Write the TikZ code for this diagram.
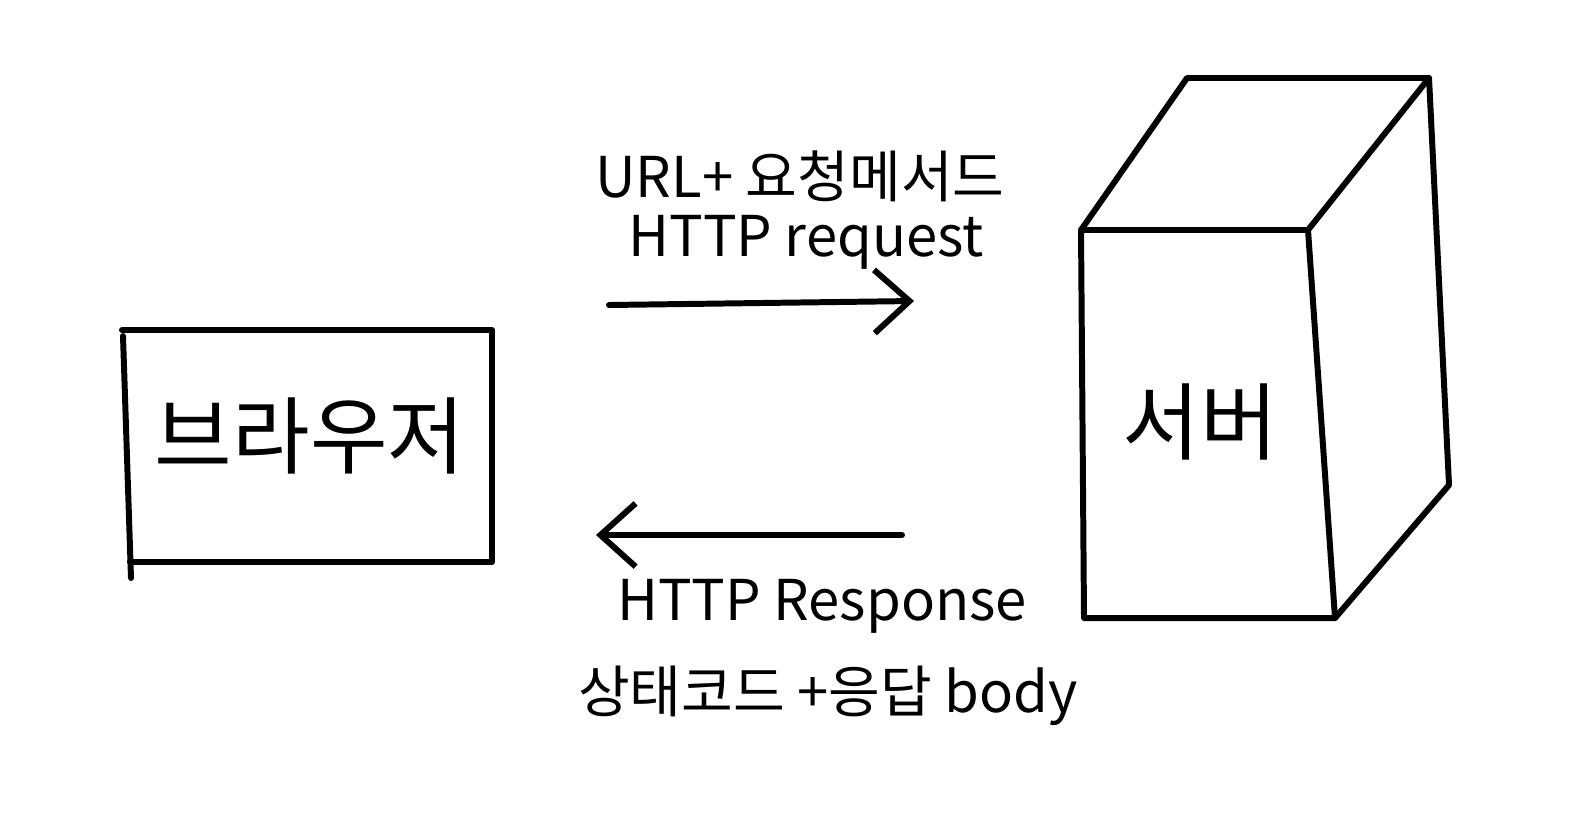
\documentclass[tikz,border=0pt]{standalone}
\usepackage{fontspec}
\setmainfont{Noto Sans CJK KR}
\usetikzlibrary{arrows.meta}

\begin{document}
\begin{tikzpicture}[x=0.02cm, y=-0.02cm,
  pen/.style={line width=3.4pt, line cap=round, line join=round},
  caption/.style={font=\fontsize{32}{38}\selectfont, inner sep=0pt},
  bigtext/.style={font=\fontsize{48}{54}\selectfont, inner sep=0pt},
  flow/.style={pen, -{Straight Barb[length=20pt, width=36pt]}}]

  \useasboundingbox (0,0) rectangle (1584,839);

  % Browser box
  \draw[pen] (122,330) -- (492,330) -- (492,562) -- (130,562);
  \draw[pen] (123,336) -- (131,578);
  \node[bigtext] (browser) at (310,436) {브라우저};

  % Server box corners
  \coordinate (FTL) at (1081,230);
  \coordinate (FTR) at (1308,230);
  \coordinate (FBR) at (1335,618);
  \coordinate (FBL) at (1084,618);
  \coordinate (BTL) at (1187,78);
  \coordinate (BTR) at (1429,78);
  \coordinate (BBR) at (1449,485);

  % Front face, top face and side
  \draw[pen] (FTL) -- (FTR) -- (FBR) -- (FBL) -- cycle;
  \draw[pen] (FTL) -- (BTL) -- (BTR) -- (FTR);
  \draw[pen] (BTR) -- (BBR) -- (FBR);
  \node[bigtext] (server) at (1200,422) {서버};

  % Request arrow
  \coordinate (reqA) at (609,305);
  \coordinate (reqB) at (914,301);
  \draw[flow] (reqA) -- (reqB);
  \node[caption] (req1) at (800,176) {URL+ 요청메서드};
  \node[caption] (req2) at (806,242) {HTTP request};

  % Response arrow
  \coordinate (resA) at (902,535);
  \coordinate (resB) at (596,535);
  \draw[flow] (resA) -- (resB);
  \node[caption] (res1) at (822,606) {HTTP Response};
  \node[caption] (res2) at (828,696) {상태코드 +응답 body};

\end{tikzpicture}
\end{document}
